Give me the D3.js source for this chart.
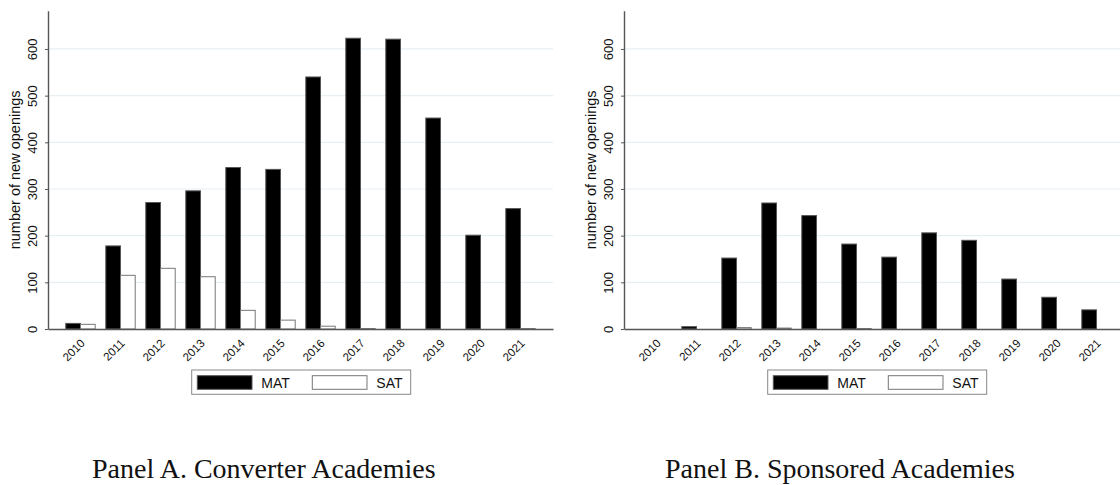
<!DOCTYPE html>
<html>
<head>
<meta charset="utf-8">
<script src="https://cdn.jsdelivr.net/npm/d3@7"></script>
<style>
  body { margin: 0; background: #fff; }
  svg { display: block; }
  text { font-family: "Liberation Sans", Arial, sans-serif; fill: #111; }
  .panel-title { font-family: "Liberation Serif", "Times New Roman", serif; font-size: 28px; }
</style>
</head>
<body>
<svg width="1120" height="485"></svg>
<script>
// Data
const years = ["2010", "2011", "2012", "2013", "2014", "2015", "2016", "2017", "2018", "2019", "2020", "2021"];
const seriesNames = ["MAT", "SAT"];
const yTicks = [0, 100, 200, 300, 400, 500, 600];

// Panel A: converter academies
const converterMAT = [12, 178, 271, 296, 346, 342, 540, 623, 621, 452, 201, 258];
const converterSAT = [10, 115, 130, 112, 40, 19, 6, 1, 0, 0, 0, 1];

// Panel B: sponsored academies
const sponsoredMAT = [0, 5, 152, 270, 243, 182, 154, 206, 190, 107, 68, 41];
const sponsoredSAT = [0, 0, 3, 2, 0, 1, 0, 0, 0, 0, 0, 0];

const panelTitles = ["Panel A. Converter Academies", "Panel B. Sponsored Academies"];

// Layout
const plotWidth = 505;
const plotTop = 10.7;
const baseline = 329;
const yMax = 682;

const svg = d3.select("svg");

const yScale = d3.scaleLinear()
                .domain([0, yMax])
                .range([baseline, plotTop]);

const xScale = d3.scaleBand()
                .domain(years)
                .range([0, plotWidth])
                .paddingInner(0.265)
                .paddingOuter(0.445);

const subScale = d3.scaleBand()
                .domain(seriesNames)
                .range([0, xScale.bandwidth()]);

const fills = { MAT: "#000", SAT: "#fff" };
const strokes = { MAT: "#555", SAT: "#777" };

function drawPanel(left, mat, sat, title, titleX) {
    const g = svg.append("g")
                 .attr("transform", `translate(${left},0)`);

    // grid lines
    g.selectAll(".grid")
     .data(yTicks.filter(d => d > 0))
     .enter()
     .append("line")
     .attr("x1", 0)
     .attr("x2", plotWidth)
     .attr("y1", d => yScale(d))
     .attr("y2", d => yScale(d))
     .attr("stroke", "#e8eff3")
     .attr("stroke-width", 1.2);

    // bars
    const rows = years.map((y, i) => ({ year: y, MAT: mat[i], SAT: sat[i] }));
    const groups = g.selectAll(".year")
                    .data(rows)
                    .enter()
                    .append("g")
                    .attr("transform", d => `translate(${xScale(d.year)},0)`);

    groups.selectAll("rect")
          .data(d => seriesNames.map(s => ({ key: s, value: d[s] })))
          .enter()
          .append("rect")
          .attr("x", d => subScale(d.key))
          .attr("y", d => yScale(d.value))
          .attr("width", subScale.bandwidth())
          .attr("height", d => baseline - yScale(d.value))
          .attr("fill", d => fills[d.key])
          .attr("stroke", d => strokes[d.key])
          .attr("stroke-width", 1);

    // y axis
    const yAxis = d3.axisLeft(yScale)
                    .tickValues(yTicks)
                    .tickSize(3)
                    .tickSizeOuter(0);

    const ya = g.append("g").call(yAxis);
    ya.select(".domain").attr("stroke", "#555").attr("stroke-width", 1.4);
    ya.selectAll(".tick line").attr("stroke", "#555");
    ya.selectAll(".tick text")
      .attr("x", 0)
      .attr("dy", 0)
      .attr("text-anchor", "middle")
      .attr("transform", "translate(-11.5,0) rotate(-90)")
      .style("font-size", "13px")
      .style("font-family", "'Liberation Sans', Arial, sans-serif")
      .attr("fill", "#111");

    // x axis
    const xAxis = d3.axisBottom(xScale)
                    .tickSize(0)
                    .tickSizeOuter(0);

    const xa = g.append("g")
                .attr("transform", `translate(0,${baseline})`)
                .call(xAxis);
    xa.select(".domain").attr("stroke", "#555").attr("stroke-width", 1.4);
    xa.selectAll(".tick text")
      .attr("x", 0)
      .attr("y", 0)
      .attr("dy", 0)
      .attr("text-anchor", "end")
      .attr("transform", "translate(5,15) rotate(-45)")
      .style("font-size", "11.5px")
      .style("font-family", "'Liberation Sans', Arial, sans-serif")
      .attr("fill", "#111");

    // y axis title
    g.append("text")
     .attr("text-anchor", "middle")
     .attr("transform", `translate(${20 - 48},${(plotTop + baseline) / 2}) rotate(-90)`)
     .style("font-size", "14.5px")
     .text("number of new openings");

    // legend
    const lg = g.append("g")
                .attr("transform", `translate(${143.7},370)`);
    lg.append("rect")
      .attr("x", 0).attr("y", 0)
      .attr("width", 219).attr("height", 24.3)
      .attr("fill", "#fff")
      .attr("stroke", "#888")
      .attr("stroke-width", 1);

    const items = lg.selectAll(".item")
                    .data(seriesNames)
                    .enter()
                    .append("g")
                    .attr("transform", (d, i) => `translate(${5.6 + i * 115},5.7)`);
    items.append("rect")
         .attr("width", 54.7)
         .attr("height", 13.6)
         .attr("fill", d => fills[d])
         .attr("stroke", d => strokes[d]);
    items.append("text")
         .attr("x", 64)
         .attr("y", 12)
         .style("font-size", "14px")
         .text(d => d);

    // panel title
    svg.append("text")
       .attr("class", "panel-title")
       .attr("x", titleX)
       .attr("y", 478)
       .text(title);
}

drawPanel(48, converterMAT, converterSAT, panelTitles[0], 92);
drawPanel(624, sponsoredMAT, sponsoredSAT, panelTitles[1], 665);
</script>
</body>
</html>
